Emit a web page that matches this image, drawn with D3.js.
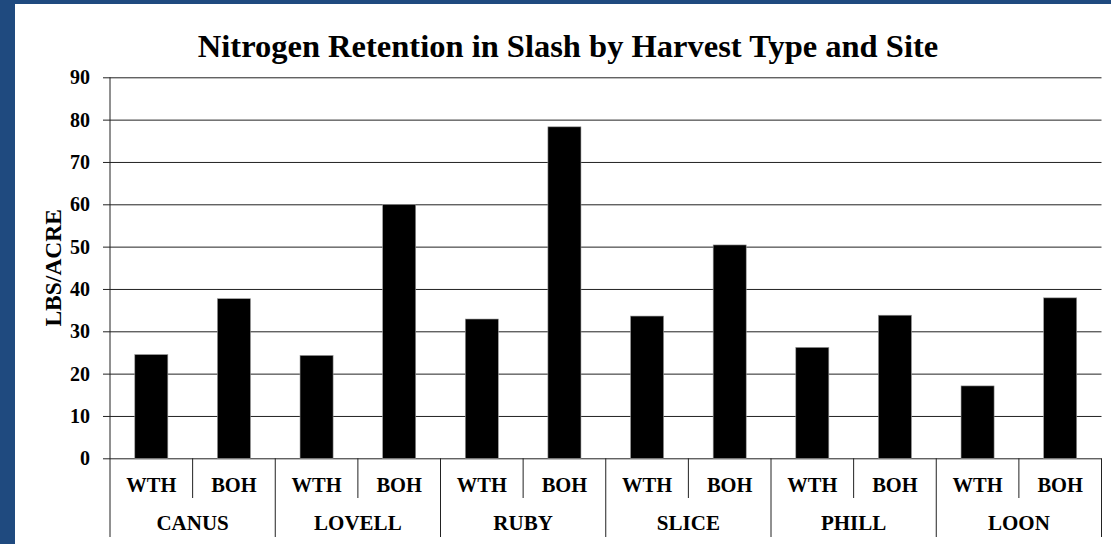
<!DOCTYPE html>
<html>
<head>
<meta charset="utf-8">
<script src="https://cdn.jsdelivr.net/npm/d3@7"></script>
<style>
  html, body { margin: 0; padding: 0; background: #1f4a7f; }
  svg { display: block; }
</style>
</head>
<body>
<svg id="chart" width="1111" height="544"></svg>
<script>
// ---- data ----
const sites = ["CANUS", "LOVELL", "RUBY", "SLICE", "PHILL", "LOON"];
const harvestTypes = ["WTH", "BOH"];
const wthValues = [24.5, 24.3, 32.9, 33.6, 26.2, 17.1];
const bohValues = [37.7, 59.9, 78.3, 50.4, 33.8, 37.9];
const yTicks = [0, 10, 20, 30, 40, 50, 60, 70, 80, 90];
const titleText = "Nitrogen Retention in Slash by Harvest Type and Site";
const yTitle = "LBS/ACRE";

(function () {
const rows = [];
sites.forEach((s, i) => {
  rows.push({ site: s, type: "WTH", value: wthValues[i] });
  rows.push({ site: s, type: "BOH", value: bohValues[i] });
});

const FONT = "\"Liberation Serif\"";
const svg = d3.select("#chart");

// white panel
svg.append("rect").attr("x", 15).attr("y", 4).attr("width", 1111 - 15).attr("height", 544 - 4).attr("fill", "#fff");

const pLeft = 110, pRight = 1101.5, pTop = 77.3, pBottom = 458.3;

const x0 = d3.scaleBand().domain(sites).range([pLeft, pRight]).padding(0);
const x1 = d3.scaleBand().domain(harvestTypes).range([0, x0.bandwidth()]).paddingInner(0.6).paddingOuter(0.3);
const x1full = d3.scaleBand().domain(harvestTypes).range([0, x0.bandwidth()]).padding(0);
const y = d3.scaleLinear().domain([0, 90]).range([pBottom, pTop]);

// gridlines + y axis
const yAxis = d3.axisLeft(y).tickValues(yTicks).tickSize(7).tickPadding(13).tickFormat(d3.format("d"));
const gy = svg.append("g").attr("transform", `translate(${pLeft},0)`).call(yAxis);
gy.attr("font-family", FONT).attr("font-size", 20).attr("font-weight", "bold");
gy.select(".domain").remove();
gy.selectAll(".tick line").attr("stroke", "#222").attr("x2", pRight - pLeft).attr("x1", -7);
gy.selectAll(".tick text").attr("fill", "#000");

// bars
svg.append("g").selectAll("rect").data(rows).join("rect")
  .attr("x", d => x0(d.site) + x1(d.type))
  .attr("width", x1.bandwidth())
  .attr("y", d => y(d.value))
  .attr("height", d => y(0) - y(d.value))
  .attr("fill", "#000")
  .attr("stroke", "#999").attr("stroke-width", 0.6);

// vertical axis line
const axisLineColor = "#222";
svg.append("line").attr("x1", pLeft).attr("x2", pLeft).attr("y1", pTop).attr("y2", 537)
  .attr("stroke", axisLineColor).attr("stroke-width", 1);

// category axis separators
const gx = svg.append("g").attr("font-family", FONT).attr("font-weight", "bold");
sites.forEach((s) => {
  const mid = x0(s) + x1full("BOH");
  gx.append("line").attr("x1", mid).attr("x2", mid).attr("y1", pBottom).attr("y2", 498)
    .attr("stroke", axisLineColor);
  const edge = x0(s) + x0.bandwidth();
  gx.append("line").attr("x1", edge).attr("x2", edge).attr("y1", pBottom).attr("y2", 537)
    .attr("stroke", axisLineColor);
});

// sub-category labels
gx.selectAll("text.sub").data(rows).join("text").attr("class", "sub")
  .attr("x", d => x0(d.site) + x1full(d.type) + x1full.bandwidth() / 2)
  .attr("y", 492)
  .attr("text-anchor", "middle")
  .attr("font-size", 20.5).attr("fill", "#000")
  .text(d => d.type);

// site labels
gx.selectAll("text.site").data(sites).join("text").attr("class", "site")
  .attr("x", d => x0(d) + x0.bandwidth() / 2)
  .attr("y", 530)
  .attr("text-anchor", "middle")
  .attr("font-size", 21).attr("fill", "#000")
  .text(d => d);

// title
svg.append("text")
  .attr("x", 568).attr("y", 57)
  .attr("text-anchor", "middle")
  .attr("font-family", FONT).attr("font-size", 32.5).attr("font-weight", "bold").attr("fill", "#000")
  .text(titleText);

// y title
svg.append("text")
  .attr("transform", `translate(61,${(pTop + pBottom) / 2}) rotate(-90)`)
  .attr("text-anchor", "middle")
  .attr("font-family", FONT).attr("font-size", 23.5).attr("font-weight", "bold").attr("fill", "#000")
  .text(yTitle);
})();
</script>
</body>
</html>
